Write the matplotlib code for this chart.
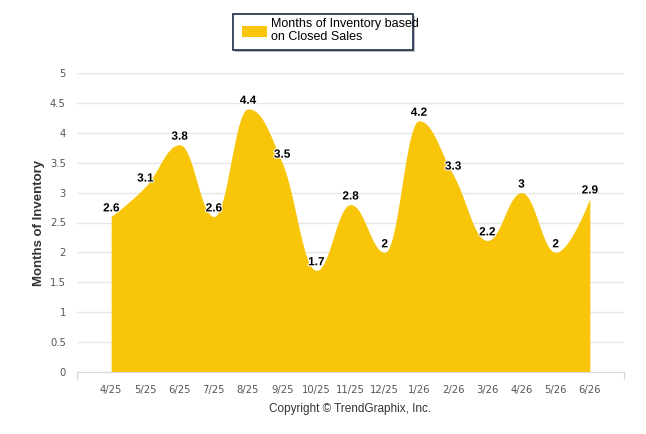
import matplotlib
matplotlib.use("Agg")
import matplotlib.patches as mpatches
import matplotlib.patheffects as pe
import matplotlib.pyplot as plt
import numpy as np

plt.rcParams["font.family"] = ["Liberation Sans", "DejaVu Sans"]

months = ["4/25", "5/25", "6/25", "7/25", "8/25", "9/25", "10/25", "11/25",
          "12/25", "1/26", "2/26", "3/26", "4/26", "5/26", "6/26"]
inventory = [2.6, 3.1, 3.8, 2.6, 4.4, 3.5, 1.7, 2.8, 2, 4.2, 3.3, 2.2, 3, 2, 2.9]
y_ticks = [0, 0.5, 1, 1.5, 2, 2.5, 3, 3.5, 4, 4.5, 5]

FILL = "#F8C508"
GRID = "#E6E6E6"


def spline_controls(xs, ys, smoothing=1.5):
    """Highcharts-style spline control points."""
    n = len(xs)
    left = [(x, y) for x, y in zip(xs, ys)]
    right = [(x, y) for x, y in zip(xs, ys)]
    denom = smoothing + 1
    for i in range(1, n - 1):
        px, py = xs[i], ys[i]
        lx, ly = xs[i - 1], ys[i - 1]
        nx, ny = xs[i + 1], ys[i + 1]
        lcx = (smoothing * px + lx) / denom
        lcy = (smoothing * py + ly) / denom
        rcx = (smoothing * px + nx) / denom
        rcy = (smoothing * py + ny) / denom
        corr = 0.0
        if rcx != lcx:
            corr = (rcy - lcy) * (rcx - px) / (rcx - lcx) + py - rcy
        lcy += corr
        rcy += corr
        if lcy > ly and lcy > py:
            lcy = max(ly, py)
            rcy = 2 * py - lcy
        elif lcy < ly and lcy < py:
            lcy = min(ly, py)
            rcy = 2 * py - lcy
        if rcy > ny and rcy > py:
            rcy = max(ny, py)
            lcy = 2 * py - rcy
        elif rcy < ny and rcy < py:
            rcy = min(ny, py)
            lcy = 2 * py - rcy
        left[i] = (lcx, lcy)
        right[i] = (rcx, rcy)
    return left, right


def spline_curve(xs, ys, steps=40):
    left, right = spline_controls(xs, ys)
    cx, cy = [xs[0]], [ys[0]]
    t = np.linspace(0, 1, steps)[1:]
    for i in range(1, len(xs)):
        p0 = np.array([xs[i - 1], ys[i - 1]])
        p1 = np.array(right[i - 1])
        p2 = np.array(left[i])
        p3 = np.array([xs[i], ys[i]])
        pts = ((1 - t) ** 3)[:, None] * p0 + (3 * (1 - t) ** 2 * t)[:, None] * p1 \
            + (3 * (1 - t) * t ** 2)[:, None] * p2 + (t ** 3)[:, None] * p3
        cx.extend(pts[:, 0])
        cy.extend(pts[:, 1])
    return np.array(cx), np.array(cy)


x = np.arange(len(months))
sx, sy = spline_curve(list(x.astype(float)), inventory)

fig = plt.figure(figsize=(6.46, 4.34), dpi=100)
ax = fig.add_axes([77 / 646, 1 - 372 / 434, (624 - 77) / 646, (372 - 73) / 434])

ax.fill_between(sx, 0, sy, color=FILL, linewidth=0, zorder=2)

for xi, v in zip(x, inventory):
    ax.annotate(f"{v:g}", (xi, v), xytext=(0, 1.5), textcoords="offset points",
                ha="center", va="bottom", fontsize=8.5, fontweight="bold",
                color="black", zorder=4,
                path_effects=[pe.withStroke(linewidth=1.5, foreground="white")])

ax.set_xlim(-1, len(months))
ax.set_ylim(0, 5)
ax.set_yticks(y_ticks)
ax.set_yticklabels([f"{v:g}" for v in y_ticks], family="DejaVu Sans")
ax.set_xticks(x)
ax.set_xticklabels(months, family="DejaVu Sans")
ax.set_xticks(np.arange(-1, len(months) + 1), minor=True)

ax.grid(axis="y", color=GRID, linewidth=1, zorder=0)
ax.tick_params(axis="y", length=0, pad=8, labelsize=7.2, labelcolor="#555555")
ax.tick_params(axis="x", which="major", length=0, pad=9, labelsize=7.2,
               labelcolor="#555555")
ax.tick_params(axis="x", which="minor", length=5, color="#D8D8D8", width=1)
for side in ["left", "right", "top"]:
    ax.spines[side].set_visible(False)
ax.spines["bottom"].set_color("#D8D8D8")

ax.set_ylabel("Months of Inventory", fontsize=9.5, fontweight="bold",
              color="#333333")
ax.yaxis.set_label_coords(-0.058, 0.5)

# legend box with shadow
shadow = mpatches.Rectangle((235 / 646, 1 - 52 / 434), 180 / 646, 36 / 434,
                            transform=fig.transFigure, facecolor="#BBBBBB",
                            edgecolor="none", zorder=1)
box = mpatches.Rectangle((233 / 646, 1 - 50 / 434), 180 / 646, 36 / 434,
                         transform=fig.transFigure, facecolor="white",
                         edgecolor="#1C2A48", linewidth=1.2, zorder=2)
swatch = mpatches.Rectangle((242 / 646, 1 - 37 / 434), 25 / 646, 11 / 434,
                            transform=fig.transFigure, facecolor=FILL,
                            edgecolor="none", zorder=3)
fig.patches.extend([shadow, box, swatch])
fig.text(271 / 646, 1 - 30.5 / 434, "Months of Inventory based\non Closed Sales",
         fontsize=9, color="black", va="center", ha="left", linespacing=1.05,
         zorder=4)

fig.text(350 / 646, 1 - 409 / 434, "Copyright © TrendGraphix, Inc.",
         fontsize=8.5, color="#333333", ha="center", va="center")

fig.savefig("out.png", dpi=100)
